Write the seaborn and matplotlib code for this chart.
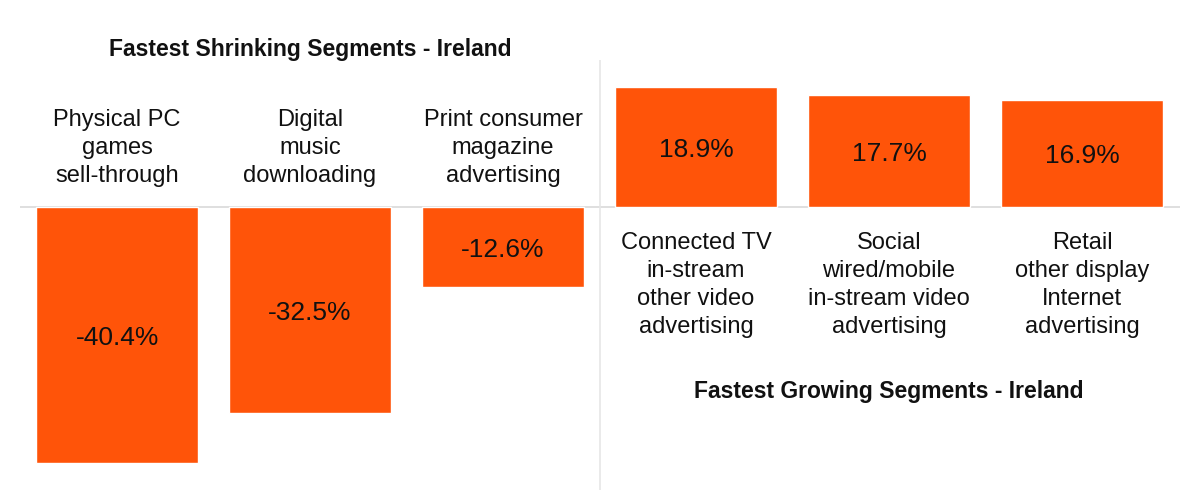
import matplotlib
matplotlib.use("Agg")
import matplotlib.pyplot as plt
import seaborn as sns
import pandas as pd

categories = [
    "Physical PC\ngames\nsell-through",
    "Digital\nmusic\ndownloading",
    "Print consumer\nmagazine\nadvertising",
    "Connected TV\nin-stream\nother video\nadvertising",
    "Social\nwired/mobile\nin-stream video\nadvertising",
    "Retail\nother display\nInternet\nadvertising",
]
values = [-40.4, -32.5, -12.6, 18.9, 17.7, 16.9]
value_labels = ["-40.4%", "-32.5%", "-12.6%", "18.9%", "17.7%", "16.9%"]
title_shrinking = "Fastest Shrinking Segments - Ireland"
title_growing = "Fastest Growing Segments - Ireland"

sns.set_theme(style="white")
plt.rcParams["font.family"] = ["Liberation Sans", "DejaVu Sans"]

BAR = "#FF5409"
TXT = "#111111"

df = pd.DataFrame({"cat": categories, "val": values})

fig = plt.figure(figsize=(12, 5), dpi=100)
ax = fig.add_axes([20 / 1200, 0, 1160 / 1200, 1])

sns.barplot(data=df, x="cat", y="val", color=BAR, width=0.84,
            saturation=1, ax=ax, zorder=2)

ax.set_xlim(-0.503, 5.508)
ax.set_ylim(-46.2, 32.65)
ax.axhline(0, color="#d9d9d9", lw=1.2, zorder=1)
ax.vlines(2.5, -44.6, 23.2, color="#e6e6e6", lw=1.2, zorder=1)

for i, (c, v, lab) in enumerate(zip(categories, values, value_labels)):
    ax.text(i, v / 2 - 0.45, lab, ha="center", va="center", fontsize=19,
            color=TXT, zorder=3)
    if v < 0:
        ax.text(i, 3.1, c, ha="center", va="bottom", fontsize=17, color=TXT,
                linespacing=1.36)
    else:
        ax.text(i, -3.9, c, ha="center", va="top", fontsize=17, color=TXT,
                linespacing=1.36)

ax.text(1, 24.8, title_shrinking, ha="center", va="center", fontsize=16.5,
        fontweight="bold", color=TXT)
ax.text(4, -29.1, title_growing, ha="center", va="center", fontsize=16.5,
        fontweight="bold", color=TXT)

ax.set_axis_off()
fig.savefig("out.png", dpi=100, facecolor="white")
